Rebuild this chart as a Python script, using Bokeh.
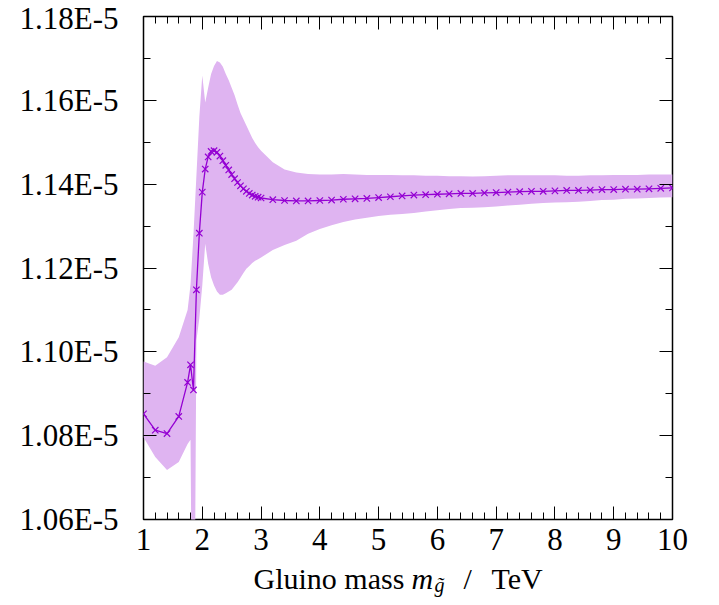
from bokeh.plotting import figure
from bokeh.models import (Range1d, FixedTicker, LinearAxis, CustomJSTickFormatter,
                          ColumnDataSource)
from bokeh.layouts import column
from bokeh.core.properties import value
from bokeh.embed import file_html
from bokeh.resources import INLINE

FONT = "Liberation Serif"
COLOR = "#9400d3"
BAND = "#dfb4f1"

# ---- data (y values in units of 1E-5) ----
mass = [1.0, 1.2, 1.4, 1.6, 1.75, 1.8, 1.85,
        1.9, 1.95, 2.0, 2.05, 2.1, 2.15, 2.2, 2.25, 2.3, 2.35, 2.4, 2.45, 2.5,
        2.55, 2.6, 2.65, 2.7, 2.75, 2.8, 2.85, 2.9, 2.95, 3.0,
        3.2, 3.4, 3.6, 3.8, 4.0, 4.2, 4.4, 4.6, 4.8, 5.0, 5.2, 5.4, 5.6, 5.8,
        6.0, 6.2, 6.4, 6.6, 6.8, 7.0, 7.2, 7.4, 7.6, 7.8, 8.0, 8.2, 8.4, 8.6,
        8.8, 9.0, 9.2, 9.4, 9.6, 9.8, 10.0]

central = [1.0852, 1.0813, 1.0805, 1.0846, 1.0927, 1.0969, 1.0909,
           1.1148, 1.1283, 1.1381, 1.1436, 1.1465, 1.1478, 1.1480, 1.1476, 1.1467,
           1.1456, 1.1445, 1.1434, 1.1423, 1.1413, 1.1404, 1.1396, 1.1389, 1.1383,
           1.1378, 1.1374, 1.1371, 1.1369, 1.1367,
           1.1363, 1.1361, 1.1360, 1.1360, 1.1361, 1.1362, 1.1364, 1.1365, 1.1366,
           1.1368, 1.1370, 1.1372, 1.1374, 1.1375, 1.1376, 1.1377, 1.1378, 1.1378,
           1.1379, 1.1380, 1.1381, 1.1382, 1.1383, 1.1383, 1.1384, 1.1385, 1.1385,
           1.1386, 1.1387, 1.1387, 1.1388, 1.1388, 1.1389, 1.1390, 1.1391]

band_low = [1.0796, 1.0749, 1.0718, 1.0737, 1.0780, 1.0790, 0.9900,
            1.1027, 1.1080, 1.1158, 1.1258, 1.1210, 1.1178, 1.1158, 1.1144, 1.1136,
            1.1136, 1.1140, 1.1144, 1.1148, 1.1157, 1.1166, 1.1177, 1.1188, 1.1198,
            1.1205, 1.1212, 1.1217, 1.1221, 1.1225,
            1.1243, 1.1255, 1.1265, 1.1282, 1.1293, 1.1302, 1.1310, 1.1316, 1.1320,
            1.1324, 1.1327, 1.1329, 1.1331, 1.1335, 1.1338, 1.1341, 1.1343, 1.1344,
            1.1345, 1.1347, 1.1349, 1.1351, 1.1353, 1.1355, 1.1356, 1.1357, 1.1358,
            1.1360, 1.1362, 1.1363, 1.1365, 1.1366, 1.1367, 1.1368, 1.1369]

band_high = [1.0977, 1.0967, 1.0987, 1.1035, 1.1100, 1.1160, 1.1280,
             1.1420, 1.1560, 1.1659, 1.1595, 1.1630, 1.1663, 1.1682, 1.1694, 1.1690,
             1.1680, 1.1663, 1.1648, 1.1630, 1.1612, 1.1590, 1.1570, 1.1555, 1.1540,
             1.1525, 1.1510, 1.1498, 1.1488, 1.1480,
             1.1452, 1.1435, 1.1428, 1.1424, 1.1423, 1.1423, 1.1424, 1.1423, 1.1422,
             1.1422, 1.1422, 1.1421, 1.1421, 1.1420, 1.1420, 1.1419, 1.1419, 1.1418,
             1.1419, 1.1420, 1.1421, 1.1421, 1.1421, 1.1421, 1.1421, 1.1420, 1.1420,
             1.1421, 1.1421, 1.1422, 1.1422, 1.1422, 1.1423, 1.1423, 1.1423]

x_ticks = [1, 2, 3, 4, 5, 6, 7, 8, 9, 10]
x_minor = [1 + 0.2 * i for i in range(46)]
y_ticks = [1.06, 1.08, 1.10, 1.12, 1.14, 1.16, 1.18]
y_minor = [1.06 + 0.01 * i for i in range(13)]

# x-axis title pieces: text, style, size, left offset (px from frame left), baseline shift
title_text = ["Gluino mass", "m", "g\u0303", "/", "TeV"]
title_style = ["normal", "italic", "italic", "normal", "normal"]
title_size = ["30px", "30px", "20px", "30px", "30px"]
title_dx = [110, 268, 291, 320, 348]
title_dy = [0, 0, 6, 0, 0]

BL, BR = 143, 47
src = ColumnDataSource(dict(x=mass, y=central, lo=band_low, hi=band_high))

p = figure(width=719, height=562, output_backend="svg", toolbar_location=None,
           x_range=Range1d(1, 10), y_range=Range1d(1.06, 1.18),
           min_border_left=BL, min_border_right=BR, min_border_top=16,
           min_border_bottom=43)
p.grid.visible = False
p.outline_line_color = "black"
p.outline_line_width = 1.5
p.background_fill_color = "white"
p.border_fill_color = "white"

p.varea(x="x", y1="lo", y2="hi", source=src, fill_color=BAND)
p.line(x="x", y="y", source=src, line_color=COLOR, line_width=1.3)
p.scatter(x="x", y="y", source=src, marker="x", size=9, line_color=COLOR,
          line_width=1.2)


def style(ax, ticks, minor, labels=True):
    ax.ticker = FixedTicker(ticks=ticks, minor_ticks=minor)
    ax.axis_line_color = None
    ax.major_tick_in = 13
    ax.major_tick_out = 0
    ax.minor_tick_in = 7
    ax.minor_tick_out = 0
    ax.major_tick_line_color = "black"
    ax.minor_tick_line_color = "black"
    ax.major_tick_line_width = 1
    ax.minor_tick_line_width = 1
    if labels:
        ax.major_label_text_font = FONT
        ax.major_label_text_font_size = "31px"
        ax.major_label_text_color = "black"
    else:
        ax.formatter = CustomJSTickFormatter(code="return ''")
        ax.major_label_text_font_size = "1px"
        ax.major_label_text_color = None
        ax.major_label_standoff = 0


xa = p.xaxis[0]
style(xa, x_ticks, x_minor)
xa.major_label_standoff = 9

ya = p.yaxis[0]
style(ya, y_ticks, y_minor)
ya.formatter = CustomJSTickFormatter(code="return tick.toFixed(2) + 'E-5'")
ya.major_label_standoff = 25

top = LinearAxis()
style(top, x_ticks, x_minor, labels=False)
p.add_layout(top, "above")
right = LinearAxis()
style(right, y_ticks, y_minor, labels=False)
p.add_layout(right, "right")

# strip below the chart that carries the x-axis title
q = figure(width=719, height=43, output_backend="svg", toolbar_location=None,
           x_range=p.x_range, y_range=Range1d(0, 43),
           min_border_left=BL, min_border_right=BR, min_border_top=0,
           min_border_bottom=0, x_axis_type=None, y_axis_type=None)
q.grid.visible = False
q.outline_line_color = None
q.background_fill_color = "white"
q.border_fill_color = "white"
tsrc = ColumnDataSource(dict(x=[1] * len(title_text), y=[27] * len(title_text),
                             text=title_text, st=title_style, fs=title_size,
                             dx=title_dx, dy=title_dy))
q.text(x="x", y="y", text="text", source=tsrc, x_offset="dx", y_offset="dy",
       text_font=value(FONT), text_font_style="st", text_font_size="fs",
       text_color="black", text_baseline="alphabetic", text_align="left")

open("out.html", "w").write(file_html(column(p, q, spacing=0), INLINE))
